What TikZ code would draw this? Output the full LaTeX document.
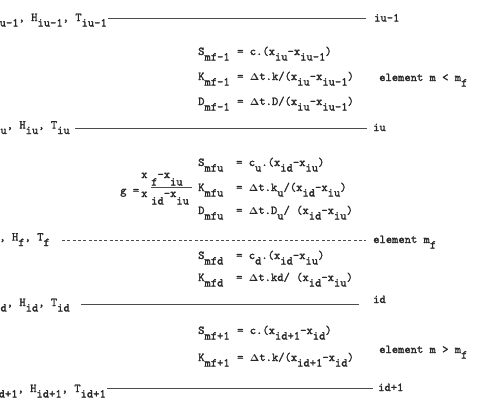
\documentclass[tikz,border=0pt]{standalone}
\font\typewr="[lmmono10-regular]:embolden=1.6" at 12pt
\newcommand{\lw}[1]{\raisebox{-5.5pt}{#1}}
\newcommand{\lwf}[1]{\raisebox{-7.5pt}{#1}}
\newcommand{\Dt}{$\mathbf{\Delta}$}
\tikzset{
  txt/.style={inner sep=0pt, anchor=base west, font=\typewr, text=black!85},
  ltxt/.style={txt, anchor=base east},
  rule/.style={line width=0.8pt, draw=black!70},
  dashrule/.style={rule, dash pattern=on 3pt off 2.3pt},
}
\begin{document}
\begin{tikzpicture}[x=1pt,y=-1pt]
\useasboundingbox (0,0) rectangle (480,410);

% ---- horizontal levels ----
\coordinate (a1) at (108,18.5);  \coordinate (a2) at (366,18.5);
\coordinate (b1) at (75,128);    \coordinate (b2) at (367,128);
\coordinate (c1) at (62,240);    \coordinate (c2) at (366,240);
\coordinate (d1) at (81,304);    \coordinate (d2) at (359,304);
\coordinate (e1) at (107,388);   \coordinate (e2) at (373,388);

\draw[rule] (a1) -- (a2);
\draw[rule] (b1) -- (b2);
\draw[dashrule] (c1) -- (c2);
\draw[rule] (d1) -- (d2);
\draw[rule] (e1) -- (e2);

% ---- left labels (cut by the page edge) ----
\node[ltxt] (La) at (107,21) {x\lw{iu-1}, H\lw{iu-1}, T\lw{iu-1}};
\node[ltxt] (Lb) at (70,128.5) {x\lw{iu}, H\lw{iu}, T\lw{iu}};
\node[ltxt] (Lc) at (50,240.5) {x\lw{f}, H\lw{f}, T\lw{f}};
\node[ltxt] (Ld) at (70,306) {x\lw{id}, H\lw{id}, T\lw{id}};
\node[ltxt] (Le) at (106,392) {x\lw{id+1}, H\lw{id+1}, T\lw{id+1}};

% ---- right labels ----
\node[txt] (Ra) at (374,21.5) {iu-1};
\node[txt] (Rb) at (373,131) {iu};
\node[txt] (Rc) at (373,243) {element m\lw{f}};
\node[txt] (Rd) at (373,303) {id};
\node[txt] (Re) at (378,391) {id+1};

\node[txt] (E1) at (379,81) {element m < m\lw{f}};
\node[txt] (E2) at (379,353) {element m > m\lw{f}};

% ---- element m < mf ----
\node[txt] (S1) at (198,55) {S\lw{mf-1}};
\node[txt] (S1r) at (237,55) {= c.(x\lw{iu}-x\lw{iu-1})};
\node[txt] (K1) at (198,80) {K\lw{mf-1}};
\node[txt] (K1r) at (237,80) {= \Dt t.k/(x\lw{iu}-x\lw{iu-1})};
\node[txt] (D1) at (198,105) {D\lw{mf-1}};
\node[txt] (D1r) at (237,105) {= \Dt t.D/(x\lw{iu}-x\lw{iu-1})};

% ---- element mf, upstream part ----
\node[txt] (S2) at (198,166) {S\lw{mfu}};
\node[txt] (S2r) at (236,166) {= c\lw{u}.(x\lw{id}-x\lw{iu})};
\node[txt] (K2) at (198,191) {K\lw{mfu}};
\node[txt] (K2r) at (236,191) {= \Dt t.k\lw{u}/(x\lw{id}-x\lw{iu})};
\node[txt] (D2) at (198,214) {D\lw{mfu}};
\node[txt] (D2r) at (236,214) {= \Dt t.D\lw{u}/ (x\lw{id}-x\lw{iu})};

% ---- g fraction ----
\node[txt] (g) at (120,194) {g =};
\node[txt] (nx) at (141,178) {x};
\node[txt] (nr) at (151,178) {\lwf{f}-x\lwf{iu}};
\node[txt] (dx) at (141,197) {x};
\node[txt] (dr) at (151,197) {\lwf{id}-x\lwf{iu}};
\coordinate (f1) at (151,187); \coordinate (f2) at (192,187);
\draw[line width=0.6pt, draw=black!70] (f1) -- (f2);

% ---- element mf, downstream part ----
\node[txt] (S3) at (198,259) {S\lw{mfd}};
\node[txt] (S3r) at (236,259) {= c\lw{d}.(x\lw{id}-x\lw{iu})};
\node[txt] (K3) at (198,281) {K\lw{mfd}};
\node[txt] (K3r) at (236,281) {= \Dt t.kd/ (x\lw{id}-x\lw{iu})};

% ---- element m > mf ----
\node[txt] (S4) at (198,334) {S\lw{mf+1}};
\node[txt] (S4r) at (237,334) {= c.(x\lw{id+1}-x\lw{id})};
\node[txt] (K4) at (198,361) {K\lw{mf+1}};
\node[txt] (K4r) at (237,361) {= \Dt t.k/(x\lw{id+1}-x\lw{id})};
\end{tikzpicture}
\end{document}
